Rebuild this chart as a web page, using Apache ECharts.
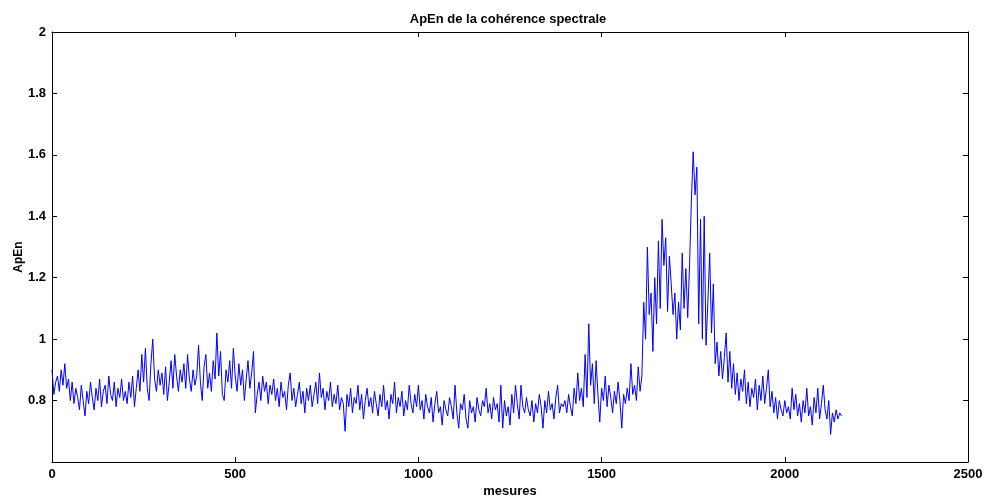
<!DOCTYPE html>
<html>
<head>
<meta charset="utf-8">
<script src="https://cdn.jsdelivr.net/npm/echarts@6/dist/echarts.min.js"></script>
<style>html,body{margin:0;padding:0;background:#fff}#c{width:986px;height:498px}</style>
</head>
<body>
<div id="c"></div>
<script>
// Title and axis names
const titleText = "ApEn de la cohérence spectrale";
const xName = "mesures";
const yName = "ApEn";
// Sampling step of the read-off values (in "mesures")
const stepMesures = 5;
const apen0 = [0.90,0.82,0.86,0.88,0.83,0.90,0.85,0.92,0.84,0.87,0.80,0.86,0.79,0.84,0.81,0.77,0.85,0.80,0.75,0.83];
const apen100 = [0.79,0.86,0.81,0.77,0.84,0.80,0.87,0.78,0.83,0.85,0.79,0.88,0.82,0.80,0.86,0.78,0.84,0.81,0.87,0.80];
const apen200 = [0.83,0.79,0.86,0.81,0.88,0.78,0.84,0.90,0.83,0.95,0.86,0.97,0.84,0.80,0.92,1.00,0.87,0.83,0.90,0.85];
const apen300 = [0.89,0.82,0.91,0.80,0.86,0.93,0.84,0.95,0.88,0.83,0.90,0.86,0.92,0.84,0.95,0.87,0.83,0.90,0.85,0.88];
const apen400 = [0.98,0.86,0.80,0.91,0.95,0.84,0.89,0.83,0.93,0.87,1.02,0.88,0.96,0.82,0.80,0.90,0.86,0.93,0.84,0.97];
const apen500 = [0.88,0.83,0.92,0.85,0.90,0.80,0.87,0.93,0.84,0.89,0.96,0.76,0.82,0.86,0.80,0.88,0.83,0.86,0.79,0.85];
const apen600 = [0.82,0.87,0.80,0.84,0.78,0.86,0.81,0.83,0.77,0.85,0.89,0.80,0.84,0.78,0.82,0.86,0.79,0.83,0.76,0.84];
const apen700 = [0.80,0.85,0.78,0.82,0.86,0.79,0.89,0.81,0.84,0.77,0.83,0.80,0.86,0.78,0.82,0.79,0.85,0.77,0.81,0.79];
const apen800 = [0.70,0.82,0.78,0.84,0.76,0.81,0.79,0.85,0.77,0.82,0.74,0.80,0.84,0.78,0.81,0.76,0.83,0.79,0.75,0.82];
const apen900 = [0.78,0.85,0.77,0.80,0.74,0.82,0.79,0.86,0.76,0.81,0.78,0.83,0.75,0.80,0.77,0.85,0.79,0.76,0.82,0.78];
const apen1000 = [0.85,0.77,0.80,0.74,0.82,0.78,0.76,0.81,0.73,0.79,0.83,0.76,0.78,0.72,0.80,0.77,0.75,0.81,0.78,0.74];
const apen1100 = [0.85,0.76,0.71,0.79,0.77,0.82,0.74,0.71,0.80,0.76,0.78,0.73,0.81,0.77,0.75,0.80,0.78,0.84,0.76,0.79];
const apen1200 = [0.74,0.81,0.77,0.79,0.73,0.85,0.71,0.80,0.75,0.78,0.72,0.82,0.76,0.85,0.79,0.74,0.85,0.78,0.76,0.81];
const apen1300 = [0.77,0.75,0.80,0.73,0.79,0.76,0.82,0.78,0.71,0.80,0.76,0.83,0.77,0.79,0.74,0.81,0.85,0.76,0.79,0.78];
const apen1400 = [0.80,0.76,0.82,0.78,0.75,0.84,0.79,0.89,0.80,0.84,0.78,0.95,0.81,1.05,0.85,0.92,0.79,0.93,0.82,0.73];
const apen1500 = [0.84,0.80,0.88,0.78,0.85,0.81,0.76,0.83,0.79,0.86,0.80,0.71,0.82,0.79,0.84,0.80,0.92,0.82,0.85,0.80];
const apen1600 = [0.91,0.83,0.88,1.12,1.00,1.30,1.08,1.15,0.96,1.20,1.05,1.32,1.10,1.39,1.24,1.33,1.09,1.27,1.18,1.08];
const apen1700 = [1.15,1.00,1.12,1.03,1.28,1.10,1.23,1.07,1.24,1.45,1.61,1.47,1.56,1.05,1.39,1.00,1.40,0.98,1.12,1.28];
const apen1800 = [1.02,1.18,0.92,0.99,0.88,0.96,0.87,0.94,1.02,0.86,0.96,0.84,0.92,0.82,0.89,0.80,0.87,0.83,0.90,0.79];
const apen1900 = [0.86,0.78,0.84,0.81,0.87,0.77,0.85,0.80,0.88,0.79,0.84,0.90,0.78,0.83,0.76,0.81,0.74,0.80,0.77,0.75];
const apen2000 = [0.80,0.76,0.78,0.74,0.84,0.77,0.82,0.75,0.79,0.73,0.80,0.76,0.84,0.75,0.78,0.72,0.81,0.76,0.84,0.74];
const apen2100 = [0.79,0.85,0.77,0.74,0.80,0.69,0.76,0.73,0.77,0.74,0.76,0.75];
// Axis ticks
const xTicks = [0, 500, 1000, 1500, 2000, 2500];
const yTicks = [0.6, 0.8, 1, 1.2, 1.4, 1.6, 1.8, 2];

const apen = [].concat(apen0, apen100, apen200, apen300, apen400, apen500, apen600, apen700,
  apen800, apen900, apen1000, apen1100, apen1200, apen1300, apen1400, apen1500, apen1600,
  apen1700, apen1800, apen1900, apen2000, apen2100);
const seriesData = apen.map((v, i) => [i * stepMesures, v]);

const FONT = 'Arial, "Liberation Sans", sans-serif';
const labelStyle = {color: '#000', fontFamily: FONT, fontWeight: 'bold', fontSize: 13};
const chart = echarts.init(document.getElementById('c'), null, {renderer: 'canvas'});
const xCommon = {
  type: 'value', min: xTicks[0], max: xTicks[xTicks.length - 1], interval: 500,
  axisLine: {show: true, onZero: false, lineStyle: {color: '#000', width: 1}},
  axisTick: {show: true, inside: true, length: 5, lineStyle: {color: '#000'}},
  splitLine: {show: false}
};
const yCommon = {
  type: 'value', min: yTicks[0], max: yTicks[yTicks.length - 1], interval: 0.2,
  axisLine: {show: true, onZero: false, lineStyle: {color: '#000', width: 1}},
  axisTick: {show: true, inside: true, length: 5, lineStyle: {color: '#000'}},
  splitLine: {show: false}
};
chart.setOption({
  animation: false,
  backgroundColor: '#fff',
  title: {
    text: titleText, left: 503, top: 8, textAlign: 'center',
    textStyle: {fontFamily: FONT, fontWeight: 'bold', fontSize: 13, color: '#000'}
  },
  grid: {left: 52, right: 18, top: 32, bottom: 36, containLabel: false, outerBoundsMode: 'none'},
  xAxis: [
    Object.assign({}, xCommon, {
      position: 'bottom', name: xName, nameLocation: 'middle', nameGap: 23, nameMoveOverlap: false,
      nameTextStyle: Object.assign({}, labelStyle, {fontSize: 13, padding: [0, 0, 0, 0]}),
      axisLabel: Object.assign({}, labelStyle, {margin: 6, formatter: v => String(v)})
    }),
    Object.assign({}, xCommon, {position: 'top', axisLabel: {show: false}})
  ],
  yAxis: [
    Object.assign({}, yCommon, {
      position: 'left', name: yName, nameLocation: 'middle', nameGap: 27, nameRotate: 90,
      nameMoveOverlap: false,
      nameTextStyle: Object.assign({}, labelStyle, {fontSize: 12, padding: [0, 20, 0, 0]}),
      axisLabel: Object.assign({}, labelStyle, {
        margin: 6,
        formatter: v => (Math.abs(v - 0.6) < 1e-9 ? '' : String(Math.round(v * 10) / 10))
      })
    }),
    Object.assign({}, yCommon, {position: 'right', axisLabel: {show: false}})
  ],
  series: [{
    type: 'line', data: seriesData, xAxisIndex: 0, yAxisIndex: 0,
    showSymbol: false, symbol: 'none',
    lineStyle: {color: '#0000ff', width: 1}, itemStyle: {color: '#0000ff'}
  }]
});
</script>
</body>
</html>
